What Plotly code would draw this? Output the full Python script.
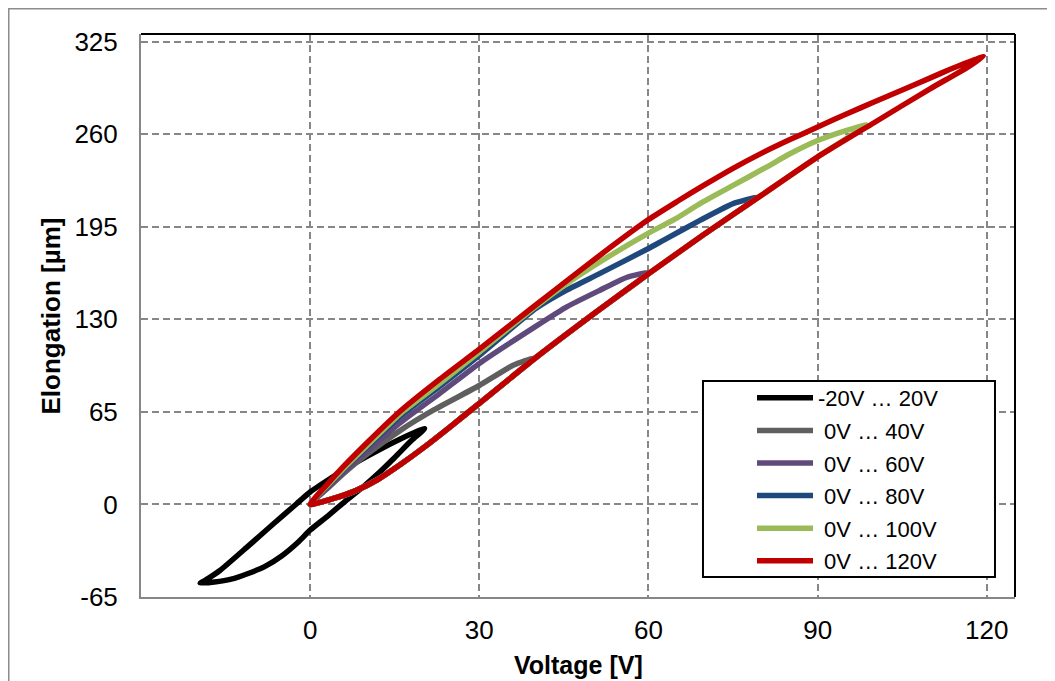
import plotly.graph_objects as go

# ---- data (Voltage [V], Elongation [µm]) ----
# -20V ... 20V loop (ascending branch, then descending branch)
v_m20_20 = [-19.5, -17, -14, -11, -8, -5, -2, 0, 3, 6, 9, 12, 15, 18, 20.3,
            18.5, 16, 13, 10, 6.5, 3.5, 0, -2.4, -6.5, -11.2, -16, -18.5, -19.5]
e_m20_20 = [-55.3, -54.5, -52.5, -48.5, -43.5, -36, -26, -18, -8.5, 1.5, 11, 21.5, 33, 45, 53.2,
            50.5, 46, 40, 33.5, 25.5, 18, 8.7, 0.5, -13.6, -30, -46.4, -53, -55.3]

# 0V ... 40V loop
v_0_40 = [0, 4, 8, 12, 16, 20, 25, 30, 35, 39.6,
          36, 30, 22, 16, 10, 6, 3, 0]
e_0_40 = [0, 4, 9.5, 17.5, 28, 39.5, 55, 71, 87, 102.6,
          97.7, 83.5, 66.5, 52, 35, 22, 11, 0]

# 0V ... 60V loop
v_0_60 = [0, 4, 8, 12, 16, 20, 25, 30, 40, 50, 60,
          56.2, 51.4, 45.5, 40, 30, 23, 16, 10, 6, 3, 0]
e_0_60 = [0, 4, 9.5, 17.5, 28, 39.5, 55, 71, 103, 133, 162.5,
          159.5, 150.4, 138.7, 125, 99, 78, 57.4, 37, 23, 11.5, 0]

# 0V ... 80V loop
v_0_80 = [0, 4, 8, 12, 16, 20, 25, 30, 40, 50, 60, 70, 79.2,
          75.1, 69.2, 62.7, 60, 51.4, 45.5, 40, 30, 23, 16, 10, 6, 3, 0]
e_0_80 = [0, 4, 9.5, 17.5, 28, 39.5, 55, 71, 103, 133, 162, 190, 215.5,
          211.4, 199.6, 185.6, 179.7, 162.2, 150.5, 137.5, 104.7, 83, 62, 40, 25, 12.5, 0]

# 0V ... 100V loop
v_0_100 = [0, 4, 8, 12, 16, 20, 25, 30, 40, 50, 60, 70, 80, 90, 98.7,
           95, 90, 85, 81, 75, 69.2, 65, 60, 51.4, 45.5, 40, 30, 23, 16, 10, 6, 3, 0]
e_0_100 = [0, 4, 9.5, 17.5, 28, 39.5, 55, 71, 103, 133, 162, 190, 217, 244, 266.5,
           262.5, 255.5, 246, 237, 224, 211.4, 201, 190.5, 170.3, 155, 139, 107, 85, 63.8, 41, 25.5, 13, 0]

# 0V ... 120V loop
v_0_120 = [0, 4, 8, 12, 16, 20, 25, 30, 40, 50, 60, 70, 80, 90, 100, 110, 116, 119.4,
           118, 116, 113.5, 110, 105, 100, 95, 90, 85, 80, 75, 70, 65, 60, 51.4, 45.5, 40,
           30, 23, 16, 10, 6, 3, 0]
e_0_120 = [0, 4, 9.5, 17.5, 28, 39.5, 55, 71, 103, 133, 162, 190, 217, 244, 268, 292, 305.5, 314.5,
           312.5, 309.5, 305.5, 299.5, 291, 282.5, 274, 265, 256, 246.5, 236, 224.5, 212.5, 200,
           175, 157, 140, 109, 88, 65.6, 43, 27, 14, 0]

series_names = ["-20V … 20V", "\u00a00V … 40V", "\u00a00V … 60V",
                "\u00a00V … 80V", "\u00a00V … 100V", "\u00a00V … 120V"]
series_v = [v_m20_20, v_0_40, v_0_60, v_0_80, v_0_100, v_0_120]
series_e = [e_m20_20, e_0_40, e_0_60, e_0_80, e_0_100, e_0_120]
series_colors = ["#000000", "#5f5f5f", "#604a7b", "#1f497d", "#9bbb59", "#c00000"]

x_ticks = [0, 30, 60, 90, 120]
x_tick_labels = ["0", "30", "60", "90", "120"]
y_ticks = [-65, 0, 65, 130, 195, 260, 325]
y_tick_labels = ["-65", "0", "65", "130", "195", "260", "325"]

FONT = "Arial, Liberation Sans, sans-serif"

fig = go.Figure()
for i, (name, vv, ee, col) in enumerate(zip(series_names, series_v, series_e, series_colors)):
    fig.add_trace(go.Scatter(
        x=vv, y=ee, mode="lines", name=name, legendgroup=f"g{i}",
        line=dict(color=col, width=5.5, shape="spline", smoothing=0.5),
    ))

grid = dict(showgrid=True, gridcolor="#878787", gridwidth=2, griddash="7px,4px",
            showline=True, linecolor="#878787", linewidth=2, zeroline=False,
            ticks="", tickfont=dict(family=FONT, size=26, color="#000000"))

fig.update_xaxes(range=[-30, 125], tickvals=x_ticks, ticktext=x_tick_labels,
                 ticklabelstandoff=9, **grid)
fig.update_yaxes(range=[-65, 330.3], tickvals=y_ticks, ticktext=y_tick_labels,
                 ticklabelstandoff=16, **grid)

shapes = [
    # outer frame
    dict(type="rect", xref="paper", yref="paper", x0=-0.1513, x1=1.1, y0=-0.2, y1=1.0449,
         line=dict(color="#8c8c8c", width=1.5), fillcolor="rgba(0,0,0,0)", layer="below"),
    # top and right plot border (black)
    dict(type="line", xref="paper", yref="paper", x0=0, x1=1, y0=1, y1=1,
         line=dict(color="#000000", width=2)),
    dict(type="line", xref="paper", yref="paper", x0=1, x1=1, y0=0, y1=1,
         line=dict(color="#000000", width=2)),
    # legend box
    dict(type="rect", xref="paper", yref="paper", x0=0.6430, x1=0.9771, y0=0.0355, y1=0.3837,
         line=dict(color="#000000", width=2), fillcolor="#ffffff", layer="above"),
]

annotations = [
    dict(text="<b>Voltage [V]</b>", xref="paper", yref="paper", x=0.5, y=-0.1208,
         xanchor="center", yanchor="middle", showarrow=False,
         font=dict(family=FONT, size=25, color="#000000")),
    dict(text="<b>Elongation [µm]</b>", xref="paper", yref="paper", x=-0.103, y=0.5,
         xanchor="center", yanchor="middle", textangle=-90, showarrow=False,
         font=dict(family=FONT, size=26, color="#000000")),
]

# page body has an 8px margin, so the figure is shifted by 8px; margins compensate
fig.update_layout(
    width=1047, height=673,
    margin=dict(l=133, r=40, t=26, b=84),
    paper_bgcolor="#ffffff", plot_bgcolor="#ffffff",
    shapes=shapes, annotations=annotations,
    showlegend=True,
    legend=dict(x=(752 - 141) / 874, y=(597 - 377) / 563, xanchor="left", yanchor="top",
                bgcolor="rgba(0,0,0,0)", borderwidth=0, itemwidth=56,
                tracegroupgap=1, font=dict(family=FONT, size=22, color="#000000")),
)

fig.write_html("out.html")
